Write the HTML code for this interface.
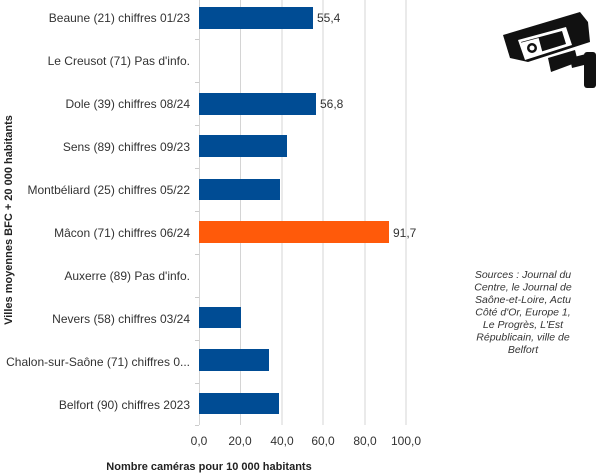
<!DOCTYPE html>
<html><head><meta charset="utf-8"><style>
body{margin:0;background:#fff;}
svg{display:block;font-family:"Liberation Sans",sans-serif;}
</style></head><body>
<svg width="600" height="473" viewBox="0 0 600 473">
<g stroke="#d4d4d4" stroke-width="1">
<line x1="240.5" y1="-4" x2="240.5" y2="425"/>
<line x1="282" y1="-4" x2="282" y2="425"/>
<line x1="323" y1="-4" x2="323" y2="425"/>
<line x1="365" y1="-4" x2="365" y2="425"/>
<line x1="406" y1="-4" x2="406" y2="425"/>
<line x1="199.5" y1="-4" x2="199.5" y2="425"/>
</g>
<g stroke="#ccc">
<line x1="195" y1="39.5" x2="199" y2="39.5"/><line x1="195" y1="82.5" x2="199" y2="82.5"/>
<line x1="195" y1="125.5" x2="199" y2="125.5"/><line x1="195" y1="168.5" x2="199" y2="168.5"/>
<line x1="195" y1="211.5" x2="199" y2="211.5"/><line x1="195" y1="254.5" x2="199" y2="254.5"/>
<line x1="195" y1="297.5" x2="199" y2="297.5"/><line x1="195" y1="340.5" x2="199" y2="340.5"/>
<line x1="195" y1="383.5" x2="199" y2="383.5"/><line x1="195" y1="425.5" x2="199" y2="425.5"/>
</g>
<g fill="#004c94">
<rect x="199" y="7" width="114" height="22"/>
<rect x="199" y="93" width="117" height="22"/>
<rect x="199" y="135" width="88" height="22"/>
<rect x="199" y="179" width="81" height="21"/>
<rect x="199" y="307" width="42" height="21"/>
<rect x="199" y="349" width="70" height="22"/>
<rect x="199" y="393" width="80" height="21"/>
</g>
<rect x="199" y="221" width="190" height="22" fill="#ff5a0a"/>
<g font-size="12" fill="#333" text-anchor="end">
<text x="190" y="22">Beaune (21) chiffres 01/23</text>
<text x="190" y="65">Le Creusot (71) Pas d'info.</text>
<text x="190" y="108">Dole (39) chiffres 08/24</text>
<text x="190" y="151">Sens (89) chiffres 09/23</text>
<text x="190" y="194">Montbéliard (25) chiffres 05/22</text>
<text x="190" y="237">Mâcon (71) chiffres 06/24</text>
<text x="190" y="280">Auxerre (89) Pas d'info.</text>
<text x="190" y="323">Nevers (58) chiffres 03/24</text>
<text x="190" y="366">Chalon-sur-Saône (71) chiffres 0...</text>
<text x="190" y="409">Belfort (90) chiffres 2023</text>
</g>
<g font-size="12" fill="#333">
<text x="317" y="22">55,4</text>
<text x="320" y="108">56,8</text>
<text x="393" y="237">91,7</text>
</g>
<g font-size="12" fill="#333" text-anchor="middle">
<text x="199" y="445">0,0</text><text x="240" y="445">20,0</text><text x="282" y="445">40,0</text>
<text x="323" y="445">60,0</text><text x="365" y="445">80,0</text><text x="406" y="445">100,0</text>
</g>
<text x="209" y="470" font-size="11" font-weight="bold" text-anchor="middle" fill="#222">Nombre caméras pour 10 000 habitants</text>
<text transform="translate(12,220) rotate(-90)" font-size="11" font-weight="bold" text-anchor="middle" fill="#222">Villes moyennes BFC + 20 000 habitants</text>
<g font-size="10.5" font-style="italic" fill="#333" text-anchor="middle">
<text x="523" y="278">Sources : Journal du</text>
<text x="523" y="290.5">Centre, le Journal de</text>
<text x="523" y="303">Saône-et-Loire,  Actu</text>
<text x="523" y="315.5">Côté d'Or, Europe 1,</text>
<text x="523" y="328">Le Progrès,  L'Est</text>
<text x="523" y="340.5">Républicain, ville de</text>
<text x="523" y="353">Belfort</text>
</g>
<g>
<polygon points="503,35 580,12 588,22 590,42 528,62 510,58" fill="#111"/>
<polygon points="518,40 566,27 572,45 525,60" fill="#fff"/>
<polygon points="521,42 562,31 566,44 527,56" fill="#111"/>
<rect x="523" y="40" width="18" height="16" fill="#fff" transform="rotate(-15 532 48)"/>
<circle cx="532" cy="48" r="5" fill="#111"/><circle cx="532" cy="48" r="2.5" fill="#fff"/>
<polygon points="548,58 575,50 578,62 551,72" fill="#111"/>
<polygon points="570,58 586,54 588,64 572,68" fill="#111"/>
<rect x="584" y="52" width="12" height="36" rx="3" fill="#111"/>
</g>
</svg>
</body></html>
